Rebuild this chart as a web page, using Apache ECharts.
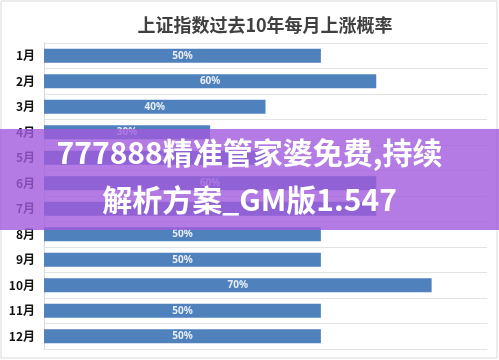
<!DOCTYPE html>
<html><head><meta charset="utf-8">
<script src="https://cdn.jsdelivr.net/npm/echarts@6/dist/echarts.min.js"></script>
<style>html,body{margin:0;padding:0;background:#fff}#c{width:499px;height:360px}</style>
</head><body><div id="c"></div>
<script>
const titleText = '上证指数过去10年每月上涨概率';
const months = ['1月','2月','3月','4月','5月','6月','7月','8月','9月','10月','11月','12月'];
const upRate = [0.5, 0.6, 0.4, 0.3, 0.4, 0.6, 0.6, 0.5, 0.5, 0.7, 0.5, 0.5];
const bannerLines = ['777888精准管家婆免费,持续', '解析方案_GM版1.547'];

const chart = echarts.init(document.getElementById('c'), null, {renderer:'canvas'});
chart.setOption({
  animation:false,
  backgroundColor:'#fff',
  title:{text:titleText,left:260,top:11,textAlign:'center',
    textStyle:{fontFamily:'Noto Sans CJK SC',fontSize:18,fontWeight:'bold',color:'#404040'}},
  grid:{left:44,right:12,top:43,bottom:11},
  xAxis:{type:'value',min:0,max:0.8,show:false},
  yAxis:{type:'category',data:months,inverse:true,
    axisLine:{show:true,lineStyle:{color:'#d9d9d9'}},
    axisTick:{show:false},
    splitLine:{show:true,lineStyle:{color:'#e3e3e3'}},
    axisLabel:{color:'#111',fontWeight:'bold',fontSize:12,fontFamily:'Noto Sans CJK SC',margin:9}},
  series:[{type:'bar',data:upRate,barWidth:'55%',
    itemStyle:{color:'#4f81bd'},
    label:{show:true,position:'inside',color:'#e8eef7',fontSize:10,fontWeight:'bold',
      fontFamily:'Noto Sans',formatter:p=>Math.round(p.value*100)+'%'}}],
  graphic:[
    {type:'rect',shape:{x:1,y:1,width:496,height:357},style:{fill:'none',stroke:'#d9d9d9',lineWidth:1},z:0},
    {type:'rect',shape:{x:0,y:129,width:499,height:101},style:{fill:'rgba(160,90,220,0.8)'},z:100},
    {type:'text',left:'center',top:138,style:{text:bannerLines[0],fill:'#fff',
      font:'bold 30px "Noto Sans CJK SC"',textAlign:'center',
      shadowColor:'rgba(60,20,110,0.6)',shadowBlur:3},z:101},
    {type:'text',left:'center',top:185,style:{text:bannerLines[1],fill:'#fff',
      font:'bold 30px "Noto Sans CJK SC"',textAlign:'center',
      shadowColor:'rgba(60,20,110,0.6)',shadowBlur:3},z:101}
  ]
});
</script></body></html>
